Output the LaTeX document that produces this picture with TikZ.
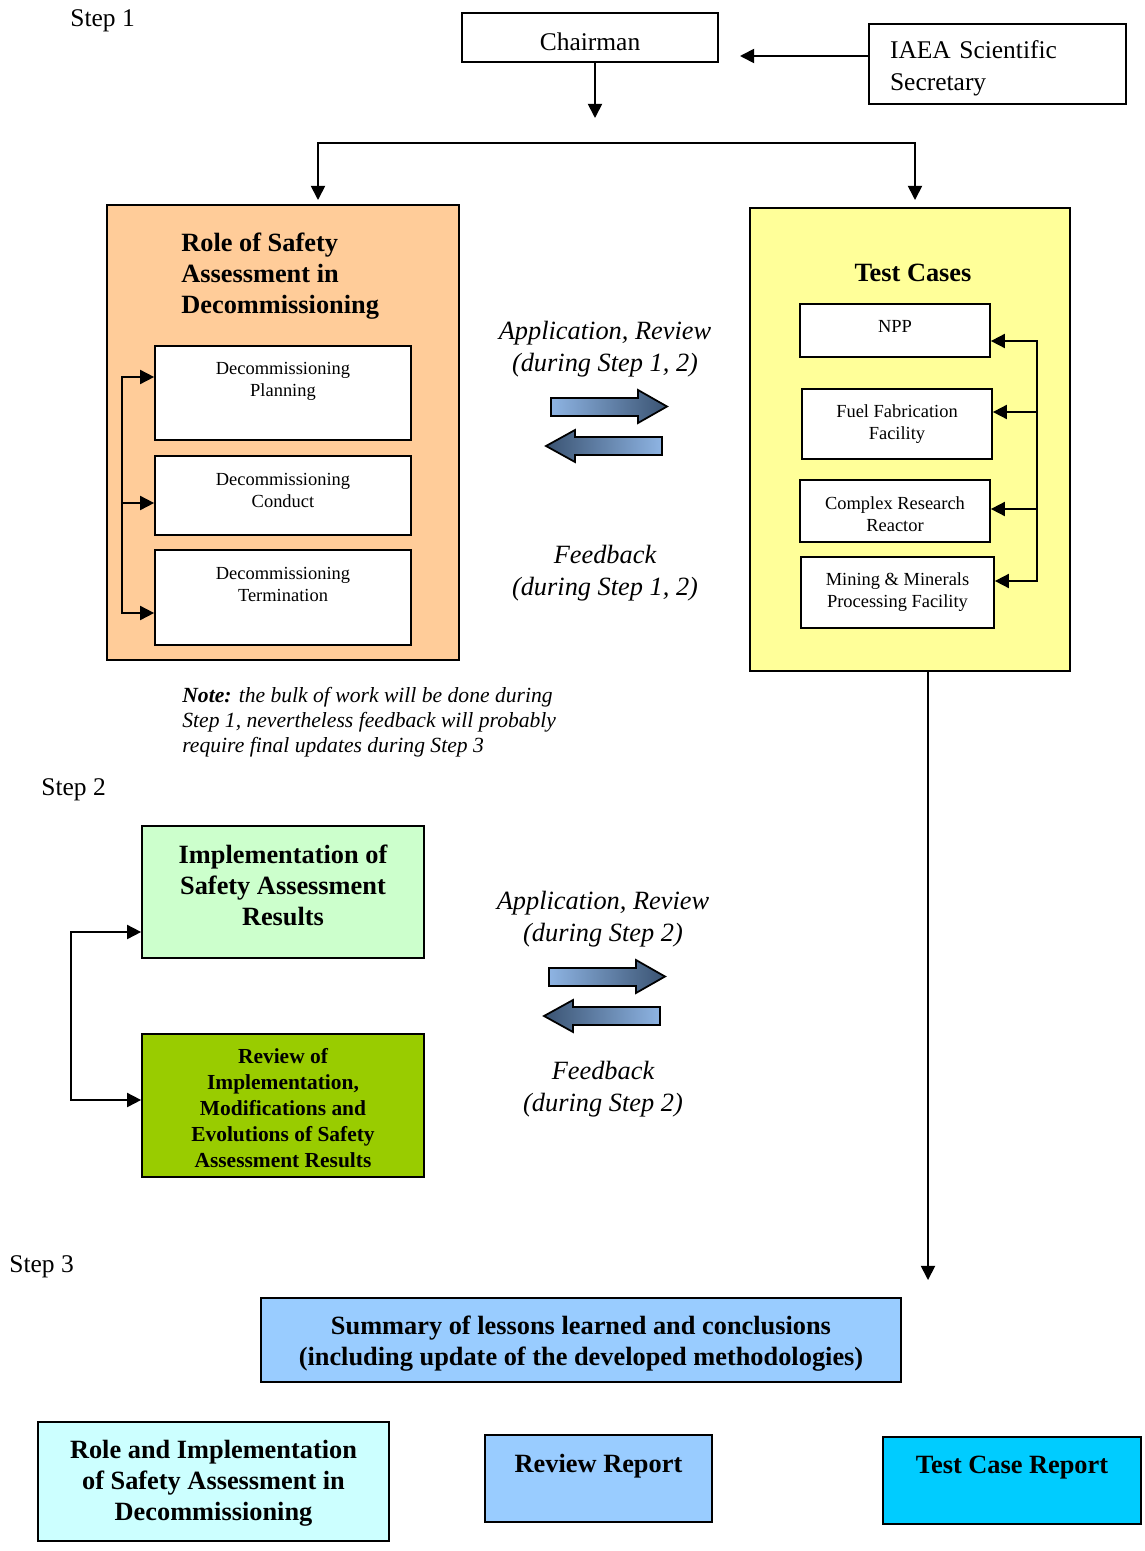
\documentclass[tikz,border=0pt]{standalone}
\usepackage{fontspec}
\setmainfont{Liberation Serif}
\usepackage{tikz}
\usetikzlibrary{arrows.meta, positioning, calc}

\definecolor{roleorange}{HTML}{FFCC99}
\definecolor{testyellow}{HTML}{FFFF99}
\definecolor{implgreen}{HTML}{CCFFCC}
\definecolor{revgreen}{HTML}{99CC00}
\definecolor{sumblue}{HTML}{99CCFF}
\definecolor{lightcyan}{HTML}{CCFFFF}
\definecolor{strongcyan}{HTML}{00CCFF}
\definecolor{arrowlight}{HTML}{8EB4E3}
\definecolor{arrowdark}{HTML}{3A5372}

\begin{document}
\begin{tikzpicture}[
  x=0.02cm, y=-0.02cm,
  >={Triangle[length=8pt, width=8pt]},
  bigtext/.style={font=\fontsize{14.5}{18.2}\selectfont, align=center},
  bigital/.style={font=\fontsize{15}{18.2}\selectfont\itshape, align=center},
  bigbold/.style={font=\fontsize{15}{17.6}\selectfont\bfseries, align=center},
  smalltext/.style={font=\fontsize{10.5}{12.5}\selectfont, align=center},
  box/.style={draw, line width=1pt, inner sep=0pt},
  subbox/.style={box, fill=white, minimum width=5.12cm},
  casebox/.style={box, fill=white},
  arrow/.style={->, line width=1pt},
  blockarrow/.style={draw=black, line width=1pt}
]
\useasboundingbox (0,0) rectangle (1144,1551);

%% Step labels
\node[bigtext, anchor=west, inner sep=0pt] (s1) at (70,21) {Step 1};
\node[bigtext, anchor=west, inner sep=0pt] (s2) at (41,790) {Step 2};
\node[bigtext, anchor=west, inner sep=0pt] (s3) at (9,1267) {Step 3};

%% Chairman and secretary
\node[box, minimum width=5.12cm, minimum height=0.98cm,
      label={[bigtext, yshift=-2.3pt]center:Chairman}]
  (chair) at (590,37.5) {};
\node[box, minimum width=5.14cm, minimum height=1.6cm,
      label={[bigtext, align=left, text width=4.3cm, yshift=-2.5pt]center:{IAEA Scientific\\Secretary}}]
  (iaea) at (997.5,64) {};

\coordinate (chairin) at (740,56);
\coordinate (chairend) at (595,118);
\draw[arrow] (iaea.west |- chairin) -- (chairin);
\draw[arrow] (chair.south -| chairend) -- (chairend);

%% Branch to both columns
\coordinate (brl) at (318,143);
\coordinate (brr) at (915,143);
\coordinate (brlend) at (318,200);
\coordinate (brrend) at (915,200);
\draw[<->, line width=1pt] (brlend) -- (brl) -- (brr) -- (brrend);

%% Role of safety assessment
\node[box, fill=roleorange, minimum width=7.04cm, minimum height=9.1cm]
  (role) at (283,432.5) {};
\node[bigbold, anchor=west, align=left, inner sep=0pt] (roletitle) at (181,276)
  {Role of Safety\\Assessment in\\Decommissioning};

\node[subbox, minimum height=1.88cm,
      label={[smalltext, anchor=north, inner sep=9.8pt]north:{Decommissioning\\Planning}}]
  (plan) at (283,393) {};
\node[subbox, minimum height=1.58cm,
      label={[smalltext, anchor=north, inner sep=10pt]north:{Decommissioning\\Conduct}}]
  (cond) at (283,495.5) {};
\node[subbox, minimum height=1.9cm,
      label={[smalltext, anchor=north, inner sep=10pt]north:{Decommissioning\\Termination}}]
  (term) at (283,597.5) {};

\coordinate (lbtop) at (122,377);
\coordinate (lbmid) at (122,503);
\coordinate (lbbot) at (122,613);
\draw[<->, line width=1pt] (lbtop -| plan.west) -- (lbtop) -- (lbbot) -- (lbbot -| term.west);
\draw[arrow] (lbmid) -- (lbmid -| cond.west);

%% Test cases
\node[box, fill=testyellow, minimum width=6.4cm, minimum height=9.26cm]
  (tc) at (910,439.5) {};
\node[bigbold] (tctitle) at (913,273) {Test Cases};

\node[casebox, minimum width=3.8cm, minimum height=1.06cm,
      label={[smalltext, yshift=2.5pt]center:NPP}] (npp) at (895,330.5) {};
\node[casebox, minimum width=3.8cm, minimum height=1.4cm,
      label={[smalltext]center:{Fuel Fabrication\\Facility}}] (fuel) at (897,424) {};
\node[casebox, minimum width=3.8cm, minimum height=1.24cm,
      label={[smalltext, yshift=-1.7pt]center:{Complex Research\\Reactor}}] (crr) at (895,511) {};
\node[casebox, minimum width=3.86cm, minimum height=1.42cm,
      label={[smalltext]center:{Mining \& Minerals\\Processing Facility}}] (mine) at (897.5,592.5) {};

\coordinate (rb1) at (1037,341);
\coordinate (rb2) at (1037,412);
\coordinate (rb3) at (1037,509);
\coordinate (rb4) at (1037,581);
\draw[<->, line width=1pt] (rb1 -| npp.east) -- (rb1) -- (rb4) -- (rb4 -| mine.east);
\draw[arrow] (rb2) -- (rb2 -| fuel.east);
\draw[arrow] (rb3) -- (rb3 -| crr.east);

%% Exchange labels
\node[bigital] (app1) at (605,349) {Application, Review\\(during Step 1, 2)};
\node[bigital] (fb1) at (605,573.5) {Feedback\\(during Step 1, 2)};
\node[bigital] (app2) at (603,919) {Application, Review\\(during Step 2)};
\node[bigital] (fb2) at (603,1089.5) {Feedback\\(during Step 2)};

%% Block arrows
\foreach \dy in {0,570} {
  \begin{scope}[shift={(-2*\dy/570,\dy)}]
    \shadedraw[blockarrow, left color=arrowlight, right color=arrowdark]
      (551,398) -- (638,398) -- (638,390) -- (667,406.5) -- (638,423)
      -- (638,416) -- (551,416) -- cycle;
    \shadedraw[blockarrow, left color=arrowdark, right color=arrowlight]
      (662,437) -- (575,437) -- (575,430) -- (546,446) -- (575,462)
      -- (575,455) -- (662,455) -- cycle;
  \end{scope}
}

%% Note
\node[anchor=west, align=left, inner sep=0pt,
      font=\fontsize{12.3}{14.3}\selectfont\itshape] (note) at (182,722)
  {\textbf{Note:} the bulk of work will be done during\\
   Step 1, nevertheless feedback will probably\\
   require final updates during Step 3};

%% Step 2 boxes
\node[box, fill=implgreen, minimum width=5.64cm, minimum height=2.64cm,
      label={[bigbold, yshift=4pt]center:{Implementation of\\Safety Assessment\\Results}}]
  (impl) at (283,892) {};
\node[box, fill=revgreen, minimum width=5.64cm, minimum height=2.86cm,
      label={[font=\fontsize{12.2}{14.8}\selectfont\bfseries, align=center, yshift=-1.7pt]center:{Review of\\Implementation,\\Modifications and\\Evolutions of Safety\\Assessment Results}}]
  (review) at (283,1105.5) {};

\coordinate (sb1) at (71,932);
\coordinate (sb2) at (71,1100);
\draw[<->, line width=1pt] (sb1 -| impl.west) -- (sb1) -- (sb2) -- (sb2 -| review.west);

%% Test cases to step 3
\coordinate (tcend) at (928,1280);
\draw[arrow] (tc.south -| tcend) -- (tcend);

%% Step 3 boxes
\node[box, fill=sumblue, minimum width=12.8cm, minimum height=1.68cm,
      label={[bigbold, yshift=-2.3pt]center:{Summary of lessons learned and conclusions\\(including update of the developed methodologies)}}]
  (summary) at (581,1340) {};
\node[box, fill=lightcyan, minimum width=7.02cm, minimum height=2.38cm,
      label={[bigbold, yshift=-1.1pt]center:{Role and Implementation\\of Safety Assessment in\\Decommissioning}}]
  (rolerep) at (213.5,1481.5) {};
\node[box, fill=sumblue, minimum width=4.54cm, minimum height=1.74cm,
      label={[bigbold, anchor=north, inner sep=11pt]north:Review Report}]
  (revrep) at (598.5,1478.5) {};
\node[box, fill=strongcyan, minimum width=5.16cm, minimum height=1.74cm,
      label={[bigbold, anchor=north, inner sep=11pt]north:Test Case Report}]
  (tcrep) at (1012,1480.5) {};

\end{tikzpicture}
\end{document}
